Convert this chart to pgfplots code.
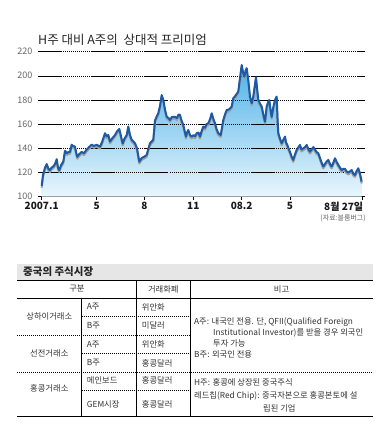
\documentclass[border=0pt]{standalone}
\usepackage{fontspec}
\setmainfont{Noto Sans CJK KR}
\usepackage{pgfplots}
\pgfplotsset{compat=1.18}
\usepackage{pgfplotstable}
\definecolor{lineblue}{HTML}{1D5AA6}
\definecolor{filltop}{HTML}{4DB2E8}
\definecolor{fillbot}{HTML}{EAF6FD}
\definecolor{shadowgray}{HTML}{A0A0A0}
\definecolor{txt}{HTML}{333333}
\definecolor{band}{HTML}{E6E6E6}
\tikzset{gridline/.style={black, line width=0.5pt, dash pattern=on 24pt off 1.2pt on 0.8pt off 1.2pt on 0.8pt off 1.2pt on 0.8pt off 1.2pt on 0.8pt off 1.2pt on 0.8pt off 1.2pt on 0.8pt off 1.2pt on 0.8pt off 1.2pt on 0.8pt off 1.2pt on 0.8pt off 1.2pt on 0.8pt off 1.2pt on 0.8pt off 1.2pt on 0.8pt off 1.2pt on 0.8pt off 1.2pt on 0.8pt off 1.2pt}}

\pgfplotstableread{
x y
41.7 100
41.7 109
43 118
45 124
46.7 127
48.5 123
50 122
51.5 124
53.3 125
55 127
56.7 131
58 124
59.3 122
61 126
63.3 129
65 138
67 136
68.5 137
70 137
71.7 143
73 142
75 141.4
76.3 136
77.3 133
79 135
81.7 137
84 136
86.7 139
89 141
91.7 143
94 142
96.7 143
98.5 142
100 141.4
102 145
104 150
105 152.5
106.7 150
108.3 151
110 145.6
112 148
115 151
117 154
119.3 156
121 150
122.7 144
124.5 148
126.7 151
128.3 158
130 151
131.7 147
133 146
135 144.2
137 140
139.3 129
141.7 132
144 133
146.7 134.5
148.5 140
150 144.2
152 146
153.3 147
155 163
156.5 166
158.3 169
160 175
161.7 184
163.3 180
165 172
166.7 166.2
168.5 165
170 163.5
172 166
175 166
177 165
178.5 168
180 167.6
181.5 163
183.3 159.3
185 153
186 149.7
187 153
188.3 155.2
190 151
191.7 149.7
193.5 151
195 150
196.7 152.5
198.5 153
200 149.7
201.5 154
203.3 158
205 157
206.5 160
208.3 160.7
210 164
211.7 169
213.5 164
215 160.7
216.5 156
218.3 152.5
220.7 151
222 157
223.3 163.5
225 168
226.7 171.7
228.5 172
230 173
231.7 174.5
233.3 181.4
235 183
236.7 185
238.3 187
240 198
241.7 208.9
243 203
244.3 199.3
245.5 204
246.7 206.3
248.3 196
250 182.7
251.7 177.3
253.3 182.8
254.5 190
256 198.8
257 190
258.3 180
260 177
261.7 174.5
263.3 168
265 162
266.7 174.5
268 178
269.3 180
270.5 172
271.7 166
273.3 174
275 180
276.7 182.8
277.5 165
278.3 152.5
280 148
281.7 144.2
283.3 147
285 149.7
286 145
287.3 142.8
289 139
290.5 136
291.7 133
293.3 130.4
295 135
296.7 138.7
298.5 141
300 142.8
301.5 139
303.3 140
305 141
306.7 142.8
308.5 139
310 137.3
311.5 139
313.3 141
315 139
316.5 137
318.3 136
320 132
321.7 128
323.3 125
325 127
326.5 129
328.3 130.4
330 127
331.7 125
333.3 128
335 131.8
336.5 129
338.3 126.3
340 124
341.7 122
343.3 123
345 123
346.5 121
348.3 120
350 121
351.7 122
353.3 119
355 118
356.5 121
358.3 123.5
360 119
361.7 112.5
361.7 100
}\premium

\begin{document}
\begin{tikzpicture}
\begin{scope}[x=1pt,y=1pt]
\useasboundingbox (0,0) rectangle (382,432);
\fill[white] (0,0) rectangle (382,432);
\node[anchor=west, font=\fontsize{12.5}{14}\selectfont, text=black!85, inner sep=0pt] at (38,392.5) {H주 대비 A주의\ \ 상대적 프리미엄};
\end{scope}
\begin{axis}[
  at={(38pt,235.3pt)}, anchor=south west, scale only axis,
  width=327pt, height=145.1pt,
  xmin=38, xmax=365, ymin=100, ymax=220,
  ytick={100,120,...,220},
  xtick={41.7,96.7,144.3,193.3,241.7,290},
  xticklabels={2007.1,5,8,11,08.2,5},
  extra x ticks={362.7},
  extra x tick labels={8월 27일},
  extra x tick style={xticklabel style={anchor=north east, xshift=4pt}},
  axis x line*=bottom, axis y line*=left,
  y axis line style={draw=none},
  x axis line style={line width=0.7pt},
  ytick style={draw=none},
  xtick style={line width=0.7pt, black},
  tick align=outside, major tick length=3pt,
  /pgf/number format/assume math mode=true,
  yticklabel style={font=\fontsize{9}{10}\selectfont, text=black!60, xshift=1pt},
  xticklabel style={font=\fontsize{10}{11}\selectfont\bfseries, text=black!90, yshift=1pt},
  unbounded coords=discard,
]
\addplot[draw=none, top color=filltop, bottom color=fillbot] table {\premium};
\draw[gridline] (axis cs:38,120) -- (axis cs:365,120);
\draw[gridline] (axis cs:38,140) -- (axis cs:365,140);
\draw[gridline] (axis cs:38,160) -- (axis cs:365,160);
\draw[gridline] (axis cs:38,180) -- (axis cs:365,180);
\draw[gridline] (axis cs:38,200) -- (axis cs:365,200);
\draw[gridline] (axis cs:38,220) -- (axis cs:365,220);
\addplot[shadowgray, line width=2pt, line join=round, y filter/.expression={y<100.5 ? nan : y-1.6}] table {\premium};
\addplot[lineblue, line width=2pt, line join=round, y filter/.expression={y<100.5 ? nan : y}] table {\premium};
\end{axis}
\begin{scope}[x=1pt,y=1pt]
\node[anchor=east, font=\fontsize{7}{8}\selectfont, text=black!60, inner sep=0pt] at (366,214) {(자료:블룸버그)};

% table
\fill[band] (17,152) rectangle (373,168);
\node[anchor=west, font=\fontsize{10.5}{12}\selectfont\bfseries, text=black!85, inner sep=0pt] at (23,160) {중국의 주식시장};
\draw[line width=0.8pt] (17,151.5) -- (373,151.5);
\draw[line width=0.6pt] (17,134) -- (373,134);
\draw[line width=0.6pt] (136.7,151.5) -- (136.7,15.5);
\draw[line width=0.6pt] (190,151.5) -- (190,15.5);
\draw[line width=0.6pt] (81.7,134) -- (81.7,15.5);
\draw[line width=0.5pt, dash pattern=on 0.8pt off 1.2pt] (81.7,115.5) -- (190,115.5);
\draw[line width=0.5pt, dash pattern=on 0.8pt off 1.2pt] (17,97) -- (190,97);
\draw[line width=0.5pt, dash pattern=on 0.8pt off 1.2pt] (81.7,78.5) -- (190,78.5);
\draw[line width=0.5pt, dash pattern=on 0.8pt off 1.2pt] (17,60) -- (373,60);
\draw[line width=0.5pt, dash pattern=on 0.8pt off 1.2pt] (81.7,42) -- (190,42);
\draw[line width=0.8pt] (17,15.5) -- (373,15.5);

\begin{scope}[every node/.style={font=\fontsize{8.3}{9}\selectfont, text=txt, inner sep=0pt}]
\node at (76.9,143) {구분};
\node at (163.3,143) {거래화폐};
\node at (281.5,143) {비고};
\node at (49.3,116) {상하이거래소};
\node at (49.3,78.5) {선전거래소};
\node at (49.3,43.5) {홍콩거래소};
\node[anchor=west] at (86.7,125) {A주};
\node[anchor=west] at (141.7,125) {위안화};
\node[anchor=west] at (86.7,106.5) {B주};
\node[anchor=west] at (141.7,106.5) {미달러};
\node[anchor=west] at (86.7,87.5) {A주};
\node[anchor=west] at (141.7,87.5) {위안화};
\node[anchor=west] at (86.7,69) {B주};
\node[anchor=west] at (141.7,69) {홍콩달러};
\node[anchor=west] at (86.7,51.5) {메인보드};
\node[anchor=west] at (141.7,51.5) {홍콩달러};
\node[anchor=west] at (86.7,27.5) {GEM시장};
\node[anchor=west] at (141.7,27.5) {홍콩달러};
\node[anchor=west] at (194,110) {A주: 내국인 전용. 단, QFII(Qualified Foreign};
\node[anchor=west] at (213,99.5) {Institutional Investor)를 받을 경우 외국인};
\node[anchor=west] at (213,89) {투자 가능};
\node[anchor=west] at (194,77.5) {B주: 외국인 전용};
\node[anchor=west] at (194,50) {H주: 홍콩에 상장된 중국주식};
\node[anchor=west] at (194,36.5) {레드칩(Red Chip): 중국자본으로 홍콩본토에 설};
\node[anchor=west] at (263,24) {립된 기업};
\end{scope}
\end{scope}
\end{tikzpicture}
\end{document}
